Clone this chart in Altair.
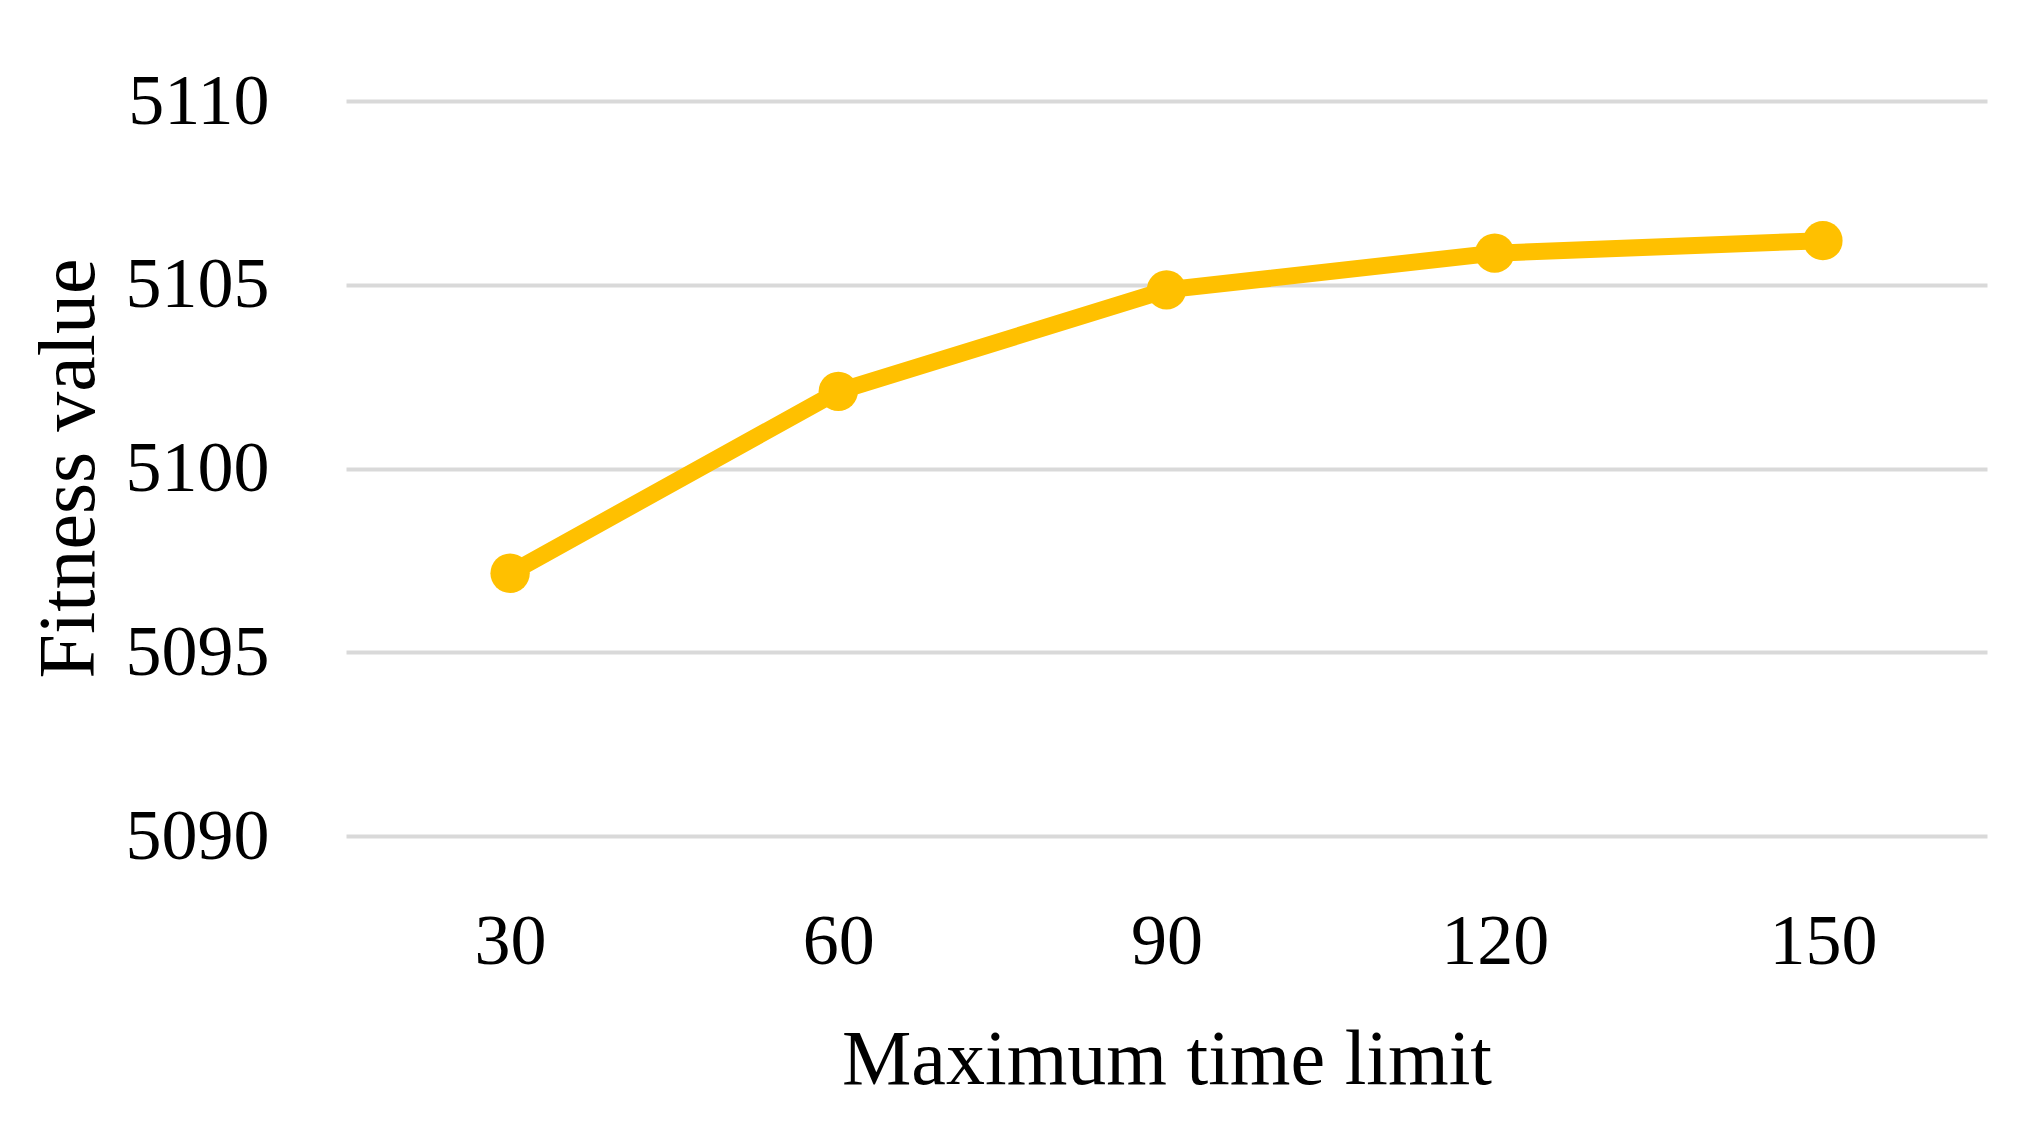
import altair as alt
import pandas as pd

time_limits = ["30", "60", "90", "120", "150"]
fitness = [5097.15, 5102.1, 5104.86, 5105.86, 5106.2]

df = pd.DataFrame({"t": time_limits, "f": fitness})

FONT = "Liberation Serif"
GOLD = "#FFC000"

x = alt.X(
    "t:N",
    sort=time_limits,
    scale=alt.Scale(paddingOuter=0.5, paddingInner=0),
    axis=alt.Axis(
        title="Maximum time limit",
        labelAngle=0,
        domain=False,
        ticks=False,
        tickSize=0,
        grid=False,
        labelFont=FONT,
        labelFontSize=72,
        labelColor="#000000",
        labelBaseline="alphabetic",
        labelPadding=127,
        titleFont=FONT,
        titleFontSize=78,
        titleFontWeight="normal",
        titleColor="#000000",
        titleBaseline="alphabetic",
        titleY=247,
    ),
)
y = alt.Y(
    "f:Q",
    scale=alt.Scale(domain=[5090, 5110], zero=False, nice=False),
    axis=alt.Axis(
        title="Fitness value",
        values=[5090, 5095, 5100, 5105, 5110],
        format="d",
        domain=False,
        ticks=False,
        tickSize=0,
        grid=True,
        gridColor="#D9D9D9",
        gridWidth=4,
        labelFont=FONT,
        labelFontSize=72,
        labelColor="#000000",
        labelPadding=77,
        titleFont=FONT,
        titleFontSize=80,
        titleFontWeight="normal",
        titleColor="#000000",
        titleAngle=270,
        titleBaseline="alphabetic",
        titleAlign="center",
        titleX=-253,
        titleY=367,
    ),
)

line = alt.Chart(df).mark_line(color=GOLD, strokeWidth=17).encode(x=x, y=y)
pts = alt.Chart(df).mark_point(filled=True, color=GOLD, size=1550, opacity=1).encode(x=x, y=y)

chart = (
    alt.layer(line, pts)
    .properties(
        width=1641,
        height=735,
        background="#ffffff",
        autosize=alt.AutoSizeParams(type="none"),
        padding={"left": 338, "top": 93, "right": 32, "bottom": 280},
    )
    .configure_view(strokeWidth=0, stroke="transparent")
)

chart.save("out.html", embed_options={"renderer": "svg", "actions": False})
